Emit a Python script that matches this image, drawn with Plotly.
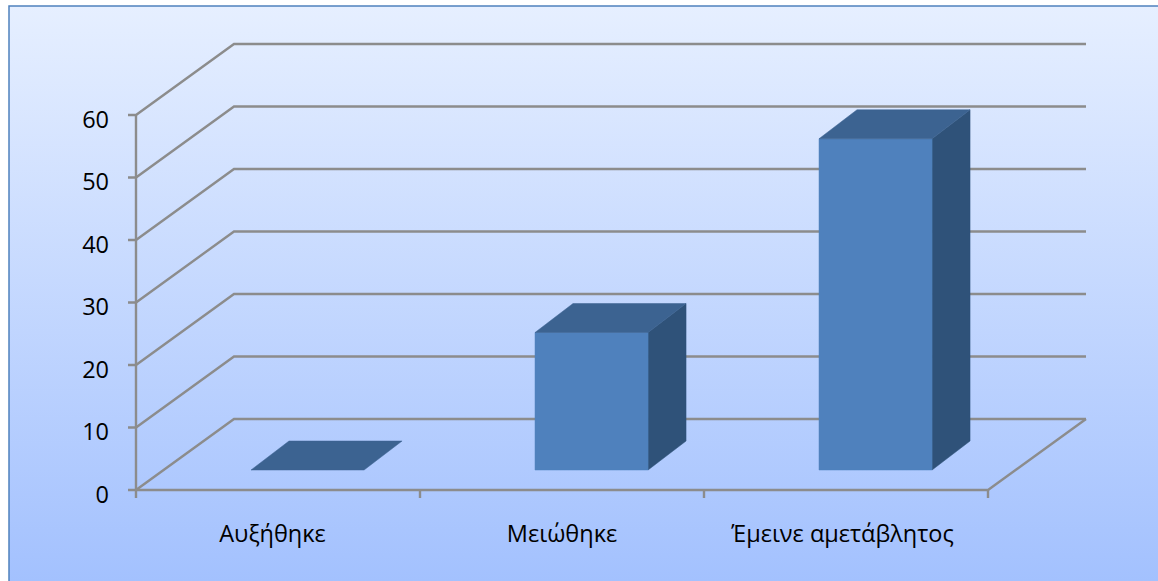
import base64
import plotly.graph_objects as go

categories = ["Αυξήθηκε", "Μειώθηκε", "Έμεινε αμετάβλητος"]
values = [0, 22, 53]
value_ticks = [0, 10, 20, 30, 40, 50, 60]

W, H = 1158, 581
PAD = 8                           # tick length; plot rectangle is padded by it
L, R, T, B = 136 - PAD, 1100, 30, 490 + PAD   # plot rectangle in page pixels
PX_X = 284.0                      # pixels per category
PX_Y = 6.25                       # pixels per value unit
WALL_DX = 98 / PX_X               # oblique offset of back wall, axis units
WALL_DY = 71 / PX_Y
TICK_X = PAD / PX_X
TICK_Y = PAD / PX_Y
BAR_LEFT = 0.405
BAR_W = 0.398
BAR_FRONT = 20 / 71               # fraction of depth where bar begins
BAR_DX = 38 / PX_X                # oblique depth of the bars
BAR_DY = 29 / PX_Y
LABEL_DROP = 4.5 / PX_Y           # value labels sit a little under their ticks
LABEL_NUDGE = [-5.5, 0, -3.5]     # category label centring, pixels

GRID = "#8C8C8C"
FRONT = "#4F81BD"
TOP = "#3C6391"
SIDE = "#2F5279"

fig = go.Figure()


def line(xs, ys, width=2.4):
    fig.add_trace(go.Scatter(x=xs, y=ys, mode="lines", hoverinfo="skip",
                             showlegend=False, line=dict(color=GRID, width=width)))


def face(xs, ys, color):
    fig.add_trace(go.Scatter(x=xs, y=ys, mode="lines", fill="toself", fillcolor=color,
                             hoverinfo="skip", showlegend=False,
                             line=dict(color=color, width=0.5)))


n = len(categories)
for v in value_ticks:
    line([-TICK_X, 0, WALL_DX, n + WALL_DX], [v, v, v + WALL_DY, v + WALL_DY])
line([0, 0], [-TICK_Y, value_ticks[-1]])
line([0, n, n + WALL_DX], [0, 0, WALL_DY])
for i in range(1, n + 1):
    line([i, i], [-TICK_Y, 0])

for i, v in enumerate(values):
    x0 = i + BAR_LEFT
    x1 = x0 + BAR_W
    y0 = BAR_FRONT * WALL_DY
    dx, dy = BAR_DX, BAR_DY
    if v > 0:
        face([x1, x1 + dx, x1 + dx, x1, x1], [y0, y0 + dy, y0 + dy + v, y0 + v, y0], SIDE)
        face([x0, x1, x1, x0, x0], [y0, y0, y0 + v, y0 + v, y0], FRONT)
    face([x0, x1, x1 + dx, x0 + dx, x0], [y0 + v, y0 + v, y0 + v + dy, y0 + v + dy, y0 + v], TOP)

svg = (f'<svg xmlns="http://www.w3.org/2000/svg" width="{W}" height="{H}" preserveAspectRatio="none">'
       '<defs><linearGradient id="g" x1="0" y1="0" x2="0" y2="1">'
       '<stop offset="0" stop-color="#E6EFFF"/><stop offset="1" stop-color="#A3C1FE"/>'
       '</linearGradient></defs>'
       f'<rect width="{W}" height="{H}" fill="url(#g)"/></svg>')
uri = "data:image/svg+xml;base64," + base64.b64encode(svg.encode()).decode()

font = dict(family="Open Sans, Noto Sans, sans-serif", size=23.5, color="#000000")

fig.update_layout(
    width=W, height=H, autosize=False,
    margin=dict(l=L, r=W - R, t=T, b=H - B, pad=0),
    paper_bgcolor="#FFFFFF", plot_bgcolor="rgba(0,0,0,0)",
    showlegend=False, font=font,
    images=[dict(source=uri, xref="paper", yref="paper", layer="below",
                 x=(9 - L) / (R - L), y=(B - 6) / (B - T),
                 sizex=(W - 9) / (R - L), sizey=(H - 6) / (B - T),
                 sizing="stretch", xanchor="left", yanchor="top")],
    shapes=[dict(type="rect", xref="paper", yref="paper", layer="above",
                 x0=(9 - L) / (R - L), x1=(W + 4 - L) / (R - L),
                 y0=(B - H - 4) / (B - T), y1=(B - 6) / (B - T),
                 line=dict(color="#4F81BD", width=1.5), fillcolor="rgba(0,0,0,0)")],
    xaxis=dict(range=[-TICK_X, (R - L) / PX_X - TICK_X], showgrid=False, zeroline=False,
               showline=False, tickmode="array",
               tickvals=[i + 0.5 + LABEL_NUDGE[i] / PX_X for i in range(n)],
               ticktext=categories, ticks="", ticklabelstandoff=19),
    yaxis=dict(range=[-TICK_Y, (B - T) / PX_Y - TICK_Y], showgrid=False, zeroline=False,
               showline=False, tickmode="array", tickvals=[v - LABEL_DROP for v in value_ticks],
               ticktext=[str(v) for v in value_ticks], ticks="", ticklabelstandoff=18),
)

fig.write_html("out.html", config=dict(displayModeBar=False),
               post_script="document.body.style.margin='0';document.body.style.overflow='hidden';")
